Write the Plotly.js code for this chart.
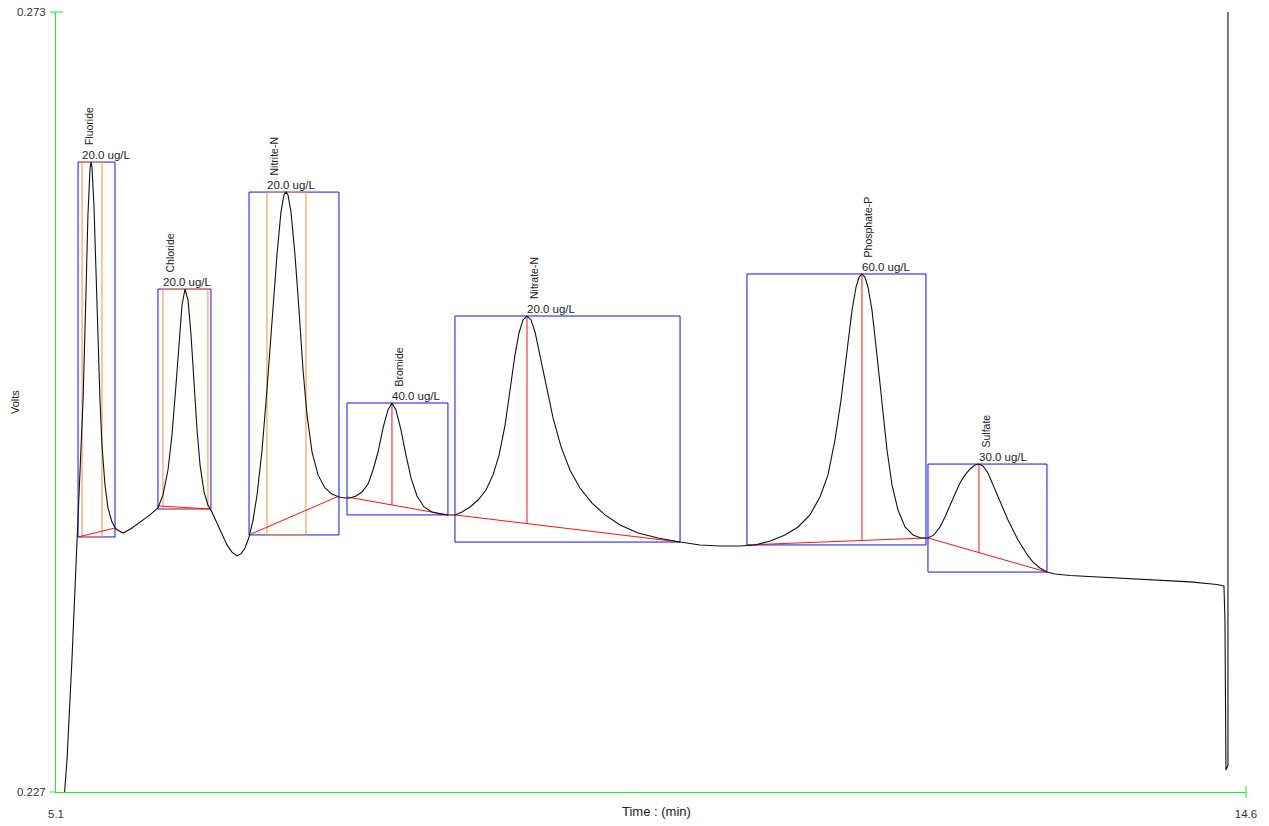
<!DOCTYPE html>
<html><head><meta charset="utf-8">
<script src="https://cdn.plot.ly/plotly-3.0.1.min.js"></script>
<style>html,body{margin:0;padding:0;background:#fff;overflow:hidden}</style>
</head><body><div id="chart" style="width:1269px;height:826px"></div>
<script>
// Chromatogram trace (time in min, signal in volts)
const timeMin = [5.148,5.188,5.228,5.268,5.276,5.292,5.316,5.340,5.355,5.371,5.379,5.387,5.403,5.419,5.435,5.451,5.467,5.491,5.515,5.547,5.579,5.635,5.707,5.771,5.850,5.914,
5.954,5.994,6.026,6.058,6.082,6.106,6.130,6.154,6.178,6.202,6.226,6.250,6.282,6.313,6.337,6.385,6.425,6.465,6.505,6.545,6.577,6.609,6.641,
6.673,6.705,6.745,6.784,6.824,6.864,6.896,6.920,6.936,6.952,6.976,7.008,7.040,7.072,7.104,7.144,7.192,7.247,7.303,7.359,7.407,7.447,
7.495,7.543,7.591,7.631,7.671,7.711,7.750,7.782,7.814,7.854,7.894,7.934,7.982,8.038,8.102,8.166,8.229,8.285,
8.341,8.405,8.469,8.533,8.589,8.637,8.685,8.724,8.764,8.796,8.828,8.860,8.892,8.924,8.964,9.012,9.068,9.132,9.203,9.283,9.379,9.483,9.603,9.746,9.906,10.082,10.241,10.401,10.561,
10.680,10.800,10.920,11.024,11.119,11.199,11.263,11.319,11.367,11.415,11.455,11.487,11.511,11.534,11.558,11.582,11.614,11.654,11.694,11.734,11.774,11.822,11.878,11.942,12.005,12.061,
12.109,12.157,12.197,12.237,12.277,12.317,12.357,12.397,12.437,12.468,12.500,12.540,12.580,12.620,12.660,12.700,12.740,12.780,12.820,12.860,12.900,12.955,13.011,
13.075,13.195,13.434,13.674,13.913,14.153,14.369,14.424,14.432,14.440,14.456,14.456];
const volts = [0.22500,0.22889,0.23490,0.24186,0.24292,0.24540,0.25012,0.25661,0.26103,0.26368,0.26415,0.26386,0.26162,0.25778,0.25366,0.25012,0.24746,0.24511,0.24375,0.24292,0.24251,0.24227,0.24257,0.24292,0.24334,0.24375,
0.24452,0.24599,0.24805,0.25100,0.25366,0.25572,0.25666,0.25602,0.25395,0.25100,0.24835,0.24628,0.24469,0.24393,0.24363,0.24286,0.24216,0.24157,0.24115,0.24092,0.24104,0.24139,0.24204,
0.24304,0.24452,0.24717,0.25071,0.25484,0.25867,0.26121,0.26221,0.26238,0.26221,0.26121,0.25867,0.25543,0.25189,0.24923,0.24705,0.24570,0.24493,0.24457,0.24440,0.24434,0.24434,
0.24446,0.24469,0.24516,0.24599,0.24705,0.24847,0.24953,0.24994,0.24953,0.24835,0.24687,0.24552,0.24446,0.24381,0.24351,0.24340,0.24334,0.24334,
0.24351,0.24381,0.24422,0.24481,0.24570,0.24687,0.24864,0.25071,0.25277,0.25407,0.25484,0.25507,0.25484,0.25413,0.25277,0.25100,0.24906,0.24735,0.24599,0.24493,0.24404,0.24334,0.24275,0.24227,0.24198,0.24174,0.24157,0.24151,0.24151,
0.24157,0.24180,0.24216,0.24263,0.24334,0.24440,0.24570,0.24776,0.25012,0.25307,0.25543,0.25678,0.25737,0.25755,0.25737,0.25678,0.25543,0.25277,0.24982,0.24717,0.24511,0.24363,0.24263,0.24216,0.24198,0.24198,
0.24216,0.24263,0.24322,0.24393,0.24457,0.24522,0.24570,0.24605,0.24628,0.24634,0.24623,0.24581,0.24511,0.24440,0.24375,0.24304,0.24245,0.24186,0.24139,0.24092,0.24056,0.24021,0.23997,
0.23986,0.23977,0.23968,0.23959,0.23950,0.23939,0.23924,0.23915,0.23714,0.22830,0.22859,0.27666];

// Peak table
const peakNames   = ["Fluoride","Chloride","Nitrite-N","Bromide","Nitrate-N","Phosphate-P","Sulfate"];
const peakConc    = ["20.0 ug/L","20.0 ug/L","20.0 ug/L","40.0 ug/L","20.0 ug/L","60.0 ug/L","30.0 ug/L"];
const peakRT      = [5.379, 6.130, 6.936, 7.782, 8.860, 11.534, 12.468];
const peakHeight  = [0.26415, 0.25666, 0.26238, 0.24994, 0.25507, 0.25755, 0.24634];
const peakStart   = [5.276, 5.914, 6.641, 7.423, 8.285, 10.616, 12.061];
const peakEnd     = [5.571, 6.337, 7.359, 8.229, 10.082, 12.045, 13.011];
const baseStart   = [0.24204, 0.24387, 0.24216, 0.24440, 0.24334, 0.24157, 0.24198];
const baseEnd     = [0.24257, 0.24369, 0.24446, 0.24334, 0.24174, 0.24198, 0.23997];
const markStart   = [5.308, 5.954, 6.784, null, null, null, null];
const markEnd     = [5.467, 6.313, 7.096, null, null, null, null];

// Axis ticks
const xTickVals = [5.1, 14.6];
const xTickText = ["5.1", "14.6"];
const yTickVals = [0.227, 0.273];
const yTickText = ["0.227", "0.273"];

const FONT = "Liberation Sans, Arial, sans-serif";
const GREEN = "#22ee22";
const BLUE = "#1010ff";
const RED = "#ff1010";
const ORANGE = "#ff9020";

const shapes = [];
const annotations = [];
for (let i = 0; i < peakNames.length; i++) {
  const bottom = Math.min(baseStart[i], baseEnd[i]);
  shapes.push({type:"rect", xref:"x", yref:"y", x0:peakStart[i], x1:peakEnd[i], y0:bottom, y1:peakHeight[i],
    line:{color:BLUE, width:1}, layer:"below"});
  if (markStart[i] !== null) {
    shapes.push({type:"rect", xref:"x", yref:"y", x0:markStart[i], x1:markEnd[i], y0:bottom, y1:peakHeight[i],
      line:{color:ORANGE, width:1}, layer:"below"});
  }
  shapes.push({type:"line", xref:"x", yref:"y", x0:peakStart[i], x1:peakEnd[i], y0:baseStart[i], y1:baseEnd[i],
    line:{color:RED, width:1}, layer:"below"});
  if (markStart[i] === null) {
    const b = baseStart[i] + (baseEnd[i]-baseStart[i])*(peakRT[i]-peakStart[i])/(peakEnd[i]-peakStart[i]);
    shapes.push({type:"line", xref:"x", yref:"y", x0:peakRT[i], x1:peakRT[i], y0:b, y1:peakHeight[i],
      line:{color:RED, width:1}, layer:"below"});
  }
  const lx = markStart[i] !== null ? markStart[i] : peakRT[i];
  annotations.push({x:lx, y:peakHeight[i], xref:"x", yref:"y", text:peakConc[i], showarrow:false,
    xanchor:"left", yanchor:"bottom", xshift:-2, yshift:-1, font:{family:FONT, size:11.5, color:"#222"}});
  annotations.push({x:lx, y:peakHeight[i], xref:"x", yref:"y", text:peakNames[i], showarrow:false, textangle:-90,
    xanchor:"center", yanchor:"bottom", xshift:7, yshift:15, font:{family:FONT, size:10.5, color:"#222"}});
}
// axis tick marks
shapes.push({type:"line", xref:"paper", yref:"paper", x0:-6/1190, x1:7/1190, y0:1, y1:1, line:{color:GREEN, width:1}});
shapes.push({type:"line", xref:"paper", yref:"paper", x0:-6/1190, x1:0, y0:0, y1:0, line:{color:GREEN, width:1}});
shapes.push({type:"line", xref:"paper", yref:"paper", x0:1, x1:1, y0:-6/780, y1:6/780, line:{color:GREEN, width:1}});

annotations.push({xref:"paper", yref:"paper", x:(656-56)/1190, y:-20/780, text:"Time : (min)", showarrow:false,
  xanchor:"center", yanchor:"middle", font:{family:FONT, size:13, color:"#222"}});
annotations.push({xref:"paper", yref:"paper", x:-41/1190, y:0.5, text:"Volts", showarrow:false, textangle:-90,
  xanchor:"center", yanchor:"middle", font:{family:FONT, size:11, color:"#222"}});

const trace = {x:timeMin, y:volts, type:"scatter", mode:"lines", line:{color:"#111", width:1.1}, hoverinfo:"skip"};

const layout = {
  width:1269, height:826,
  margin:{l:56, r:23, t:12, b:34, pad:0},
  paper_bgcolor:"#fff", plot_bgcolor:"#fff",
  showlegend:false,
  xaxis:{range:[5.1,14.6], showline:true, linecolor:GREEN, linewidth:1, showgrid:false, zeroline:false,
    tickmode:"array", tickvals:xTickVals, ticktext:xTickText, ticks:"", ticklabelstandoff:11,
    tickfont:{family:FONT, size:11.5, color:"#333"}, automargin:false},
  yaxis:{range:[0.227,0.273], showline:true, linecolor:GREEN, linewidth:1, showgrid:false, zeroline:false,
    tickmode:"array", tickvals:yTickVals, ticktext:yTickText, ticks:"", ticklabelstandoff:7,
    tickfont:{family:FONT, size:11.5, color:"#333"}, automargin:false},
  shapes:shapes, annotations:annotations
};
Plotly.newPlot("chart", [trace], layout, {displayModeBar:false, staticPlot:true});
</script></body></html>
